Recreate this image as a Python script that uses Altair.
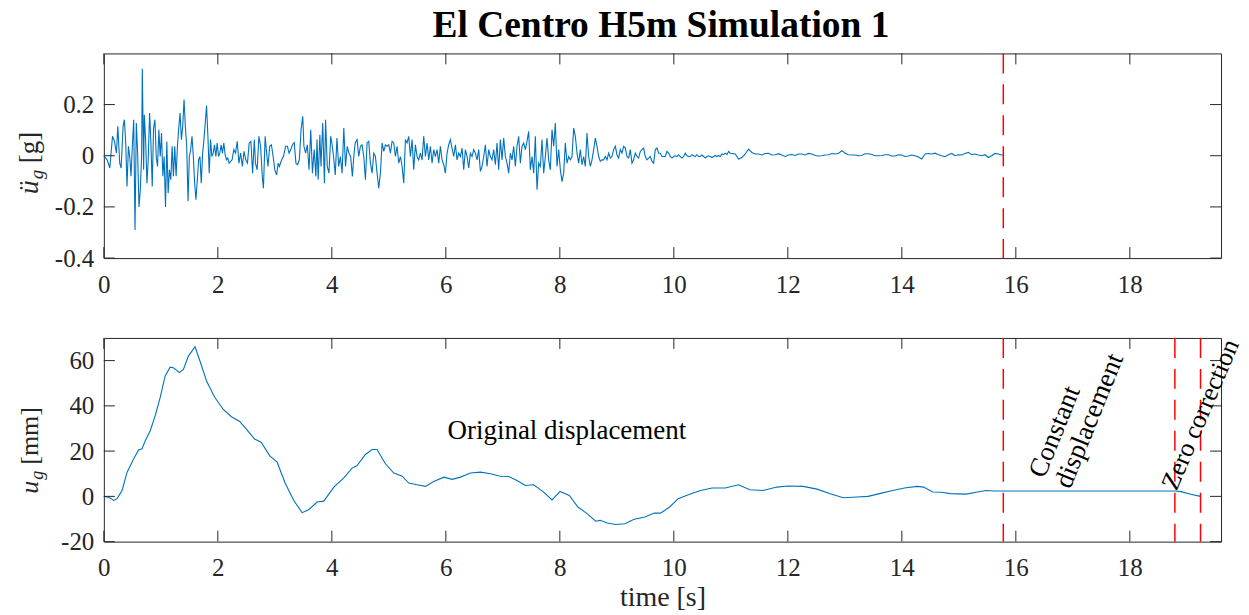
import altair as alt
import pandas as pd

# ---------------- data ----------------
# ground acceleration [g] - first part (explicit times)
acc_t_a = [0.0, 0.059, 0.105, 0.152, 0.187, 0.221, 0.245, 0.279, 0.303, 0.338,
           0.361, 0.384, 0.407, 0.431, 0.454, 0.477, 0.5, 0.524, 0.547, 0.57,
           0.593, 0.617, 0.64, 0.663, 0.675, 0.698, 0.71, 0.733, 0.756, 0.779,
           0.803, 0.826, 0.849, 0.872, 0.896, 0.919, 0.942, 0.965, 0.989, 1.012,
           1.035, 1.058, 1.082, 1.105, 1.128, 1.151, 1.175, 1.198, 1.221, 1.244,
           1.268, 1.291, 1.314, 1.337, 1.361, 1.384, 1.407, 1.43, 1.454, 1.477,
           1.5, 1.523, 1.547, 1.57, 1.593, 1.616, 1.64, 1.663, 1.686, 1.709,
           1.733, 1.756, 1.779, 1.802, 1.826, 1.849, 1.872, 1.895, 1.919, 1.942,
           1.965, 1.988, 2.012, 2.035, 2.058, 2.081, 2.105, 2.128, 2.151, 2.174,
           2.198]
acc_v_a = [0.0, -0.016, -0.048, 0.076, 0.056, 0.01, 0.115, -0.029, -0.048, 0.115,
           0.141, 0.05, -0.12, 0.037, -0.003, -0.08, 0.037, 0.141, -0.29, 0.128,
           0.01, -0.2, -0.133, -0.003, 0.34, -0.055, 0.16, 0.063, -0.107, -0.016,
           0.167, 0.05, -0.12, 0.108, 0.141, -0.003, -0.042, 0.102, -0.003, 0.089,
           -0.08, -0.003, -0.2, 0.056, -0.146, -0.055, -0.094, 0.037, -0.08, 0.037,
           -0.08, 0.037, 0.108, 0.167, 0.063, 0.115, 0.22, 0.115, 0.037, -0.178,
           -0.003, 0.023, 0.076, -0.003, -0.107, -0.172, -0.094, -0.016, -0.003, -0.107,
           0.01, 0.063, 0.128, 0.196, 0.076, -0.068, 0.063, -0.003, 0.01, 0.043,
           -0.003, 0.05, -0.003, 0.01, 0.043, 0.01, 0.05, 0.004, -0.016, -0.009,
           -0.029]
acc_t_b = [2.25, 2.28, 2.31, 2.34, 2.37, 2.40, 2.43, 2.46, 2.49, 2.52,
           2.55, 2.58, 2.61, 2.64, 2.66, 2.69, 2.72, 2.75, 2.78, 2.80,
           2.83, 2.85, 2.88, 2.91, 2.94, 2.97, 3.00, 3.03, 3.06, 3.08,
           3.12, 3.15, 3.19, 3.22, 3.25, 3.28, 3.31, 3.34, 3.37, 3.40,
           3.43, 3.46, 3.49, 3.51, 3.54, 3.57, 3.60, 3.63, 3.66, 3.69,
           3.72, 3.74, 3.76, 3.79, 3.81, 3.84, 3.87, 3.89, 3.92, 3.95,
           3.98, 4.00, 4.03, 4.06, 4.09, 4.12, 4.15, 4.18, 4.21, 4.24,
           4.27, 4.30, 4.33, 4.36, 4.39, 4.41]
acc_v_b = [-0.016, 0.024, 0.01, 0.056, -0.029, 0.01, -0.042, 0.017, -0.016, -0.029,
           0.05, 0.056, -0.068, 0.063, -0.029, -0.055, 0.076, 0.037, -0.081, -0.127,
           0.076, 0.024, -0.042, 0.037, 0.043, -0.003, -0.055, -0.075, -0.029, -0.042,
           -0.016, -0.003, 0.037, 0.037, 0.01, 0.024, 0.043, 0.052, -0.029, -0.035,
           -0.016, 0.102, 0.154, 0.037, 0.01, 0.043, -0.055, 0.102, -0.068, 0.024,
           -0.081, 0.063, -0.094, 0.082, -0.042, 0.128, -0.107, 0.141, -0.042, -0.068,
           0.076, 0.05, -0.003, -0.075, 0.069, -0.042, -0.003, -0.068, 0.108, -0.042,
           0.037, 0.01, -0.003, -0.081, 0.01, 0.05]
# regularly sampled stretches: (start time, sample step, values)
acc_seg_c = (4.443, 0.02923, [
    0.063, -0.003, 0.037, 0.043, -0.003, -0.094, 0.05, 0.056, -0.029, -0.068,
    0.01, -0.003, -0.068, -0.127, -0.068, 0.05, 0.017, 0.043, 0.037, 0.043,
    0.01, 0.056, 0.05, -0.003, 0.037, -0.029, -0.003, -0.042, -0.107, 0.063,
    0.05, 0.076, -0.003, 0.063, -0.055, 0.043, -0.003, -0.016, 0.01, -0.016,
    0.076, -0.003, 0.05, -0.016, 0.037, -0.029, 0.024, -0.003, 0.024, -0.029,
    0.037, -0.016, -0.035, -0.068, 0.01, 0.043, 0.063, 0.03, -0.003, 0.043,
    -0.016, 0.01, -0.003, 0.03, -0.055, 0.024, -0.003, -0.048, 0.01, -0.003,
    0.024, 0.01, -0.016, 0.024, -0.061])
acc_seg_d = (6.635, 0.02923, [
    -0.042, -0.003, 0.043, -0.042, 0.024, -0.003, -0.016, 0.024, -0.035, 0.05,
    -0.055, 0.063, -0.016, 0.069, -0.003, -0.029, -0.068, 0.01, -0.016, 0.037,
    -0.042, 0.037, 0.076, -0.029, 0.037, 0.05, 0.024, 0.056, 0.095, -0.055,
    -0.003, -0.068, 0.076, -0.133, -0.029, -0.042, 0.063, -0.068, -0.003, 0.069,
    -0.016, -0.055, 0.102, 0.037, 0.128, -0.042, 0.024, -0.055, -0.101, -0.068,
    0.05, -0.029, -0.003, -0.016, -0.003, 0.108, 0.076, 0.01, -0.029, 0.024,
    -0.035, -0.003, -0.042, 0.089, -0.003, -0.042, -0.016, 0.024, 0.069, 0.037,
    -0.003, -0.022, -0.016, -0.016, -0.003])
acc_seg_e = (8.827, 0.02923, [
    -0.016, 0.01, -0.009, -0.003, 0.024, 0.037, 0.004, -0.009, 0.024, 0.01,
    0.037, 0.03, -0.003, -0.009, 0.024, -0.029, -0.016, 0.01, -0.003, -0.009,
    0.017, 0.024, 0.03, -0.003, -0.016, -0.009, -0.003, -0.022, -0.029, 0.024,
    0.03, 0.01, 0.01, -0.003, -0.003, -0.003, 0.017, 0.01, -0.003, -0.009,
    -0.003, 0.0, -0.003, 0.004, -0.003, -0.009, -0.003, 0.01, 0.0, -0.003,
    -0.003, 0.004, 0.0, -0.003, 0.004, -0.003, -0.003, 0.003, -0.003, -0.009,
    -0.003, 0.0, -0.003, -0.007, -0.003, 0.001, -0.003, 0.001, -0.003, 0.007,
    0.004, 0.01, 0.004, 0.017, 0.01])
acc_seg_f = (11.077, 0.05843, [
    0.007, -0.013, -0.007, 0.007, 0.026, 0.013, 0.007, 0.007, 0.003, 0.009,
    0.01, 0.003, 0.004, 0.008, 0.003, -0.003, 0.003, 0.005, 0.001, 0.007,
    0.007, 0.003, 0.009, 0.007, 0.001, -0.001, 0.0, 0.003, 0.004, 0.009,
    0.007, 0.009, 0.02, 0.01, 0.004, 0.003, 0.003, 0.0, 0.001, 0.008,
    0.008, 0.005, 0.0, 0.0, 0.001, 0.004, 0.004, -0.001, -0.001, 0.004,
    0.003, -0.003, -0.001, 0.003, 0.0, -0.005, -0.013, 0.007, 0.009, 0.007,
    0.01, 0.004, 0.0, -0.004, 0.004, 0.009, 0.0, 0.004, 0.003, 0.009,
    0.013, 0.004, 0.007, 0.003, 0.0, 0.004, -0.007, 0.0, 0.009, 0.007,
    0.003])
acc_t_end = [15.78]
acc_v_end = [0.003]

# ground displacement [mm]
disp_t = [0.0, 0.087, 0.175, 0.233, 0.32, 0.408, 0.524, 0.61, 0.669, 0.727,
          0.814, 0.9, 0.989, 1.076, 1.163, 1.221, 1.326, 1.396, 1.483, 1.6,
          1.686, 1.802, 1.948, 2.093, 2.238, 2.383, 2.5, 2.645, 2.761, 2.907,
          3.04, 3.186, 3.333, 3.479, 3.595, 3.742, 3.859, 4.035, 4.21, 4.356,
          4.443, 4.589, 4.707, 4.794, 4.94, 5.087, 5.234, 5.349, 5.496, 5.642,
          5.788, 5.964, 6.111, 6.256, 6.432, 6.608, 6.783, 6.956, 7.103, 7.249,
          7.395, 7.541, 7.717, 7.863, 8.005, 8.166, 8.317, 8.478, 8.629, 8.709,
          8.83, 8.981, 9.142, 9.303, 9.494, 9.655, 9.765, 9.926, 10.077, 10.278,
          10.469, 10.67, 10.902, 11.133, 11.334, 11.566, 11.807, 11.998, 12.27, 12.511,
          12.742, 12.974, 13.215, 13.406, 13.607, 13.838, 14.07, 14.271, 14.382, 14.542,
          14.693, 14.854, 15.126, 15.327, 15.478, 15.639, 15.78, 18.79, 18.9, 19.07,
          19.24]
disp_v = [0.0, -0.4, -1.8, -1.0, 2.6, 10.7, 16.6, 20.5, 21.0, 24.6,
          29.0, 35.6, 43.7, 53.2, 57.1, 56.8, 54.7, 56.1, 62.0, 66.1,
          59.8, 51.0, 43.7, 38.5, 35.2, 33.1, 29.7, 25.3, 23.9, 18.0,
          15.1, 5.6, -1.8, -7.2, -5.9, -2.5, -2.1, 4.1, 8.2, 12.5,
          13.6, 18.5, 20.7, 20.7, 14.4, 10.3, 8.9, 5.9, 5.1, 4.4,
          6.6, 8.5, 7.5, 8.5, 10.3, 10.7, 10.0, 8.9, 8.8, 7.0,
          4.8, 5.1, 1.9, -1.6, 2.2, 0.4, -4.7, -7.6, -11.0, -10.6,
          -11.8, -12.4, -12.1, -10.1, -9.1, -7.4, -7.4, -4.7, -1.0, 0.9,
          2.6, 3.7, 3.7, 5.1, 2.9, 2.6, 4.1, 4.6, 4.4, 3.2,
          1.2, -0.6, -0.3, 0.0, 1.2, 2.6, 3.8, 4.4, 4.1, 1.9,
          1.8, 1.2, 1.0, 1.9, 2.6, 2.4, 2.4, 2.4, 2.1, 0.9,
          0.0]

acc_markers = [15.78]
disp_markers = [15.78, 18.79, 19.24]
x_ticks = [0, 2, 4, 6, 8, 10, 12, 14, 16, 18]
acc_ticks = [-0.4, -0.2, 0, 0.2]
disp_ticks = [-20, 0, 20, 40, 60]

title_text = "El Centro H5m Simulation 1"
annotations = [
    {"t": 6.03, "v": 29.0, "label": "Original displacement", "angle": 0,
     "base": "middle", "size": 27},
    {"t": 16.5, "v": 7.6, "label": "Constant\ndisplacement", "angle": 292,
     "base": "alphabetic", "size": 27},
    {"t": 18.82, "v": 2.1, "label": "Zero correction", "angle": 293,
     "base": "alphabetic", "size": 26},
]

# ---------------- build tables ----------------
acc_t, acc_v = list(acc_t_a), list(acc_v_a)
acc_t += acc_t_b
acc_v += acc_v_b
for start, step, vals in (acc_seg_c, acc_seg_d, acc_seg_e, acc_seg_f):
    for i, v in enumerate(vals):
        acc_t.append(round(start + i * step, 4))
        acc_v.append(v)
acc_t += acc_t_end
acc_v += acc_v_end
acc_df = pd.DataFrame({"t": acc_t, "v": acc_v})
disp_df = pd.DataFrame({"t": disp_t, "v": disp_v})

# ---------------- styling ----------------
W, H1, H2 = 1119, 205, 204
GAP = 80
LEFT, TOP = 103, 52
TOTAL_W, TOTAL_H = 1249, 615
FONT = "Liberation Serif"
AXC = "#262626"
BLUE = "#0072BD"
TICK = 11
FS = 25

xs = alt.Scale(domain=[0, 19.6], nice=False, zero=False)
ys1 = alt.Scale(domain=[-0.4, 0.4], nice=False, zero=False)
ys2 = alt.Scale(domain=[-20, 70], nice=False, zero=False)


def x_axis(title=None):
    kw = dict(values=x_ticks, ticks=False, domain=False, grid=False,
              labelFont=FONT, labelFontSize=FS, labelColor=AXC, labelPadding=14,
              labelFlush=False, labelOverlap=False)
    if title:
        kw.update(title=title, titleFont=FONT, titleFontSize=28, titleColor=AXC,
                  titleFontWeight="normal", titlePadding=3)
    else:
        kw.update(title=None)
    return alt.Axis(**kw)


def y_axis(values, expr):
    return alt.Axis(values=values, ticks=False, domain=False, grid=False,
                    labelFont=FONT, labelFontSize=FS, labelColor=AXC, labelPadding=10,
                    labelExpr=expr, title=None, labelOverlap=False)


xa_top = x_axis()
xa_bot = x_axis("time [s]")
ya1 = y_axis(acc_ticks, "datum.value == 0 ? '0' : (datum.value < 0 ? '-' : '') + format(abs(datum.value), '.1f')")
ya2 = y_axis(disp_ticks, "(datum.value < 0 ? '-' : '') + format(abs(datum.value), 'd')")


def panel(df, ys, xa, ya, H, yticks, markers):
    X = alt.X("t:Q", scale=xs, axis=xa)
    Y = alt.Y("v:Q", scale=ys, axis=ya)
    line = alt.Chart(df).mark_line(color=BLUE, strokeWidth=1.1).encode(x=X, y=Y)
    red = alt.Chart(pd.DataFrame({"t": markers})).mark_rule(
        color="#FF0000", strokeDash=[20, 11], strokeWidth=1.5).encode(x=X)
    xt = alt.Chart(pd.DataFrame({"t": x_ticks}))
    tb = xt.mark_rule(color=AXC, strokeWidth=1).encode(x=X, y=alt.value(H), y2=alt.value(H - TICK))
    tt = xt.mark_rule(color=AXC, strokeWidth=1).encode(x=X, y=alt.value(0), y2=alt.value(TICK))
    yt = alt.Chart(pd.DataFrame({"v": yticks}))
    tl = yt.mark_rule(color=AXC, strokeWidth=1).encode(y=Y, x=alt.value(0), x2=alt.value(TICK))
    tr = yt.mark_rule(color=AXC, strokeWidth=1).encode(y=Y, x=alt.value(W), x2=alt.value(W - TICK))
    return [line, red, tb, tt, tl, tr], X, Y


one = pd.DataFrame({"d": [0]})


def label_piece(text, x, y, size, italic=False):
    return alt.Chart(one).mark_text(
        text=text, font=FONT, fontSize=size, fontStyle="italic" if italic else "normal",
        angle=270, align="left", baseline="alphabetic", color=AXC
    ).encode(x=alt.value(x), y=alt.value(y))


# ---- top panel ----
layers1, X1, Y1 = panel(acc_df, ys1, xa_top, ya1, H1, acc_ticks, acc_markers)
title = alt.Chart(one).mark_text(
    text=title_text, font=FONT, fontSize=37.5, fontWeight="bold", align="center",
    baseline="alphabetic", color="black").encode(x=alt.value(558), y=alt.value(-16))
ylab1 = [
    label_piece("ü", -66, 141, 28, True),
    label_piece("g", -61, 126, 19, True),
    label_piece("[g]", -66, 110, 27),
]
# white hairline along the top edge of the page: fixes the page's extent
edge1 = alt.Chart(one).mark_rule(color="white", strokeWidth=0.5).encode(
    x=alt.value(-LEFT), x2=alt.value(TOTAL_W - LEFT), y=alt.value(-TOP + 0.25))
top = alt.layer(*layers1, title, *ylab1, edge1).properties(width=W, height=H1)

# ---- bottom panel ----
layers2, X2, Y2 = panel(disp_df, ys2, xa_bot, ya2, H2, disp_ticks, disp_markers)
ann_layers = []
for a in annotations:
    ann_layers.append(
        alt.Chart(pd.DataFrame([a])).mark_text(
            font=FONT, fontSize=a["size"], align="left", baseline=a["base"], color="black",
            lineBreak="\n", lineHeight=28, angle=a["angle"]
        ).encode(x=X2, y=Y2, text="label:N")
    )
ylab2 = [
    label_piece("u", -66, 156, 26, True),
    label_piece("g", -61, 142, 18, True),
    label_piece("[mm]", -66, 127, 26),
]
bottom_edge = TOTAL_H - TOP - H1 - GAP - 0.25
edge2 = alt.Chart(one).mark_rule(color="white", strokeWidth=0.5).encode(
    x=alt.value(-LEFT), x2=alt.value(TOTAL_W - LEFT), y=alt.value(bottom_edge))
bottom = alt.layer(*layers2, *ann_layers, *ylab2, edge2).properties(width=W, height=H2)

chart = alt.vconcat(top, bottom, spacing=GAP, bounds="flush").properties(
    padding=0, background="white"
).configure_view(stroke=AXC, strokeWidth=1)

chart.save("out.html", embed_options={"renderer": "svg", "actions": False})
